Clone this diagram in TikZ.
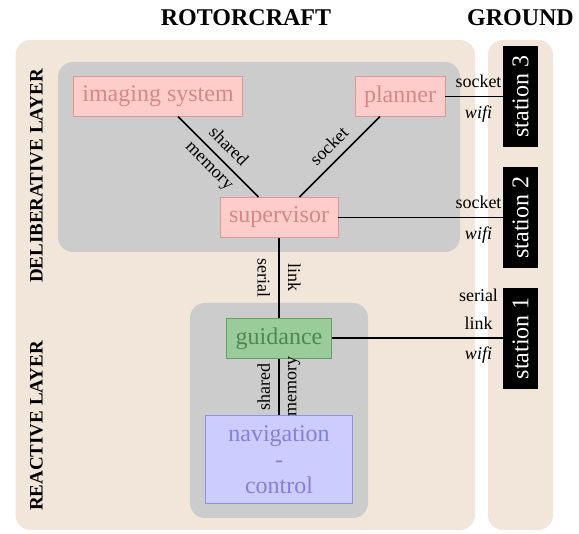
\documentclass[tikz,border=0pt]{standalone}
\usepackage{fontspec}
\setmainfont{Liberation Serif}
\definecolor{panelbg}{RGB}{242,230,218}
\definecolor{layerbg}{RGB}{204,204,204}
\definecolor{pinkfill}{RGB}{255,204,204}
\definecolor{pinkdraw}{RGB}{225,150,150}
\definecolor{pinktext}{RGB}{215,135,135}
\definecolor{greenfill}{RGB}{153,204,153}
\definecolor{greendraw}{RGB}{100,160,100}
\definecolor{greentext}{RGB}{80,135,80}
\definecolor{bluefill}{RGB}{204,204,255}
\definecolor{bluedraw}{RGB}{145,145,225}
\definecolor{bluetext}{RGB}{130,130,215}
\tikzset{
  panel/.style={fill=panelbg, rounded corners=15pt},
  layer/.style={fill=layerbg, rounded corners=15pt},
  box/.style={draw, line width=0.8pt, inner sep=0pt, align=center,
    font=\fontsize{24}{26}\selectfont},
  pinkbox/.style={box, fill=pinkfill, draw=pinkdraw, text=pinktext},
  greenbox/.style={box, fill=greenfill, draw=greendraw, text=greentext},
  bluebox/.style={box, fill=bluefill, draw=bluedraw, text=bluetext},
  station/.style={fill=black, text=white, rotate=90, inner sep=0pt,
    minimum width=100.5pt, minimum height=35.5pt,
    font=\fontsize{24}{26}\selectfont},
  conn/.style={line width=1.7pt, black},
  lbl/.style={font=\fontsize{18}{28}\selectfont, inner sep=1.5pt, outer sep=7.5pt, align=center},
  itlbl/.style={lbl, font=\fontsize{18}{28}\selectfont\itshape},
  title/.style={font=\fontsize{24}{26}\selectfont\bfseries, inner sep=0pt},
  layerlbl/.style={font=\fontsize{19}{22}\selectfont\bfseries, inner sep=0pt, rotate=90},
}
\begin{document}
\begin{tikzpicture}[x=1pt,y=-1pt]
\useasboundingbox (0,0) rectangle (579,534);
% panels
\fill[panel] (15.5,40) rectangle (475,530);
\fill[panel] (488,40) rectangle (553,530);
\fill[layer] (58,62) rectangle (460,252);
\fill[layer] (190,303) rectangle (368,518);
% titles
\node[title, anchor=base] (trot) at (246,26) {ROTORCRAFT};
\node[title, anchor=base] (tgnd) at (520.5,26) {GROUND};
\node[layerlbl] (ldel) at (36.5,176) {DELIBERATIVE LAYER};
\node[layerlbl] (lrea) at (36.5,426) {REACTIVE LAYER};
% nodes
\node[pinkbox, minimum width=169.4pt, minimum height=39.3pt] (img) at (158,96.5) {imaging system};
\node[pinkbox, minimum width=90pt, minimum height=39.3pt] (pl) at (400,96.5) {planner};
\node[pinkbox, minimum width=118pt, minimum height=40pt] (sup) at (279,217.5) {supervisor};
\node[greenbox, minimum width=104.3pt, minimum height=40pt] (gd) at (279,338.3) {guidance};
\node[bluebox, minimum width=146.6pt, minimum height=87.6pt] (nav) at (279,459.5) {navigation\\-\\control};
\node[station] (s3) at (520.5,96.5) {station 3};
\node[station] (s2) at (520.5,217.5) {station 2};
\node[station] (s1) at (520.5,338.3) {station 1};
% connectors
\draw[conn] (img) -- node[lbl, sloped, above] {shared} node[lbl, sloped, below] {memory} (sup);
\draw[conn] (pl) -- node[lbl, sloped, above] {socket} (sup);
\draw[conn] (sup) -- node[lbl, rotate=-90, anchor=north] {serial} node[lbl, rotate=-90, anchor=south] {link} (gd);
\draw[conn] (gd) -- node[lbl, rotate=90, anchor=south] {shared} node[lbl, rotate=90, anchor=north] {memory} (nav);
\draw[conn] (pl) -- (s3);
\draw[conn] (sup) -- (s2);
\draw[conn] (gd) -- (s1);
% station link labels
\node[lbl, anchor=south] (a3) at ([xshift=-42pt]s3.center) {socket};
\node[itlbl, anchor=north] (b3) at ([xshift=-42pt]s3.center) {wifi};
\node[lbl, anchor=south] (a2) at ([xshift=-42pt]s2.center) {socket};
\node[itlbl, anchor=north] (b2) at ([xshift=-42pt]s2.center) {wifi};
\node[lbl, anchor=south] (a1) at ([xshift=-42pt]s1.center) {serial\\link};
\node[itlbl, anchor=north] (b1) at ([xshift=-42pt]s1.center) {wifi};
\end{tikzpicture}
\end{document}
